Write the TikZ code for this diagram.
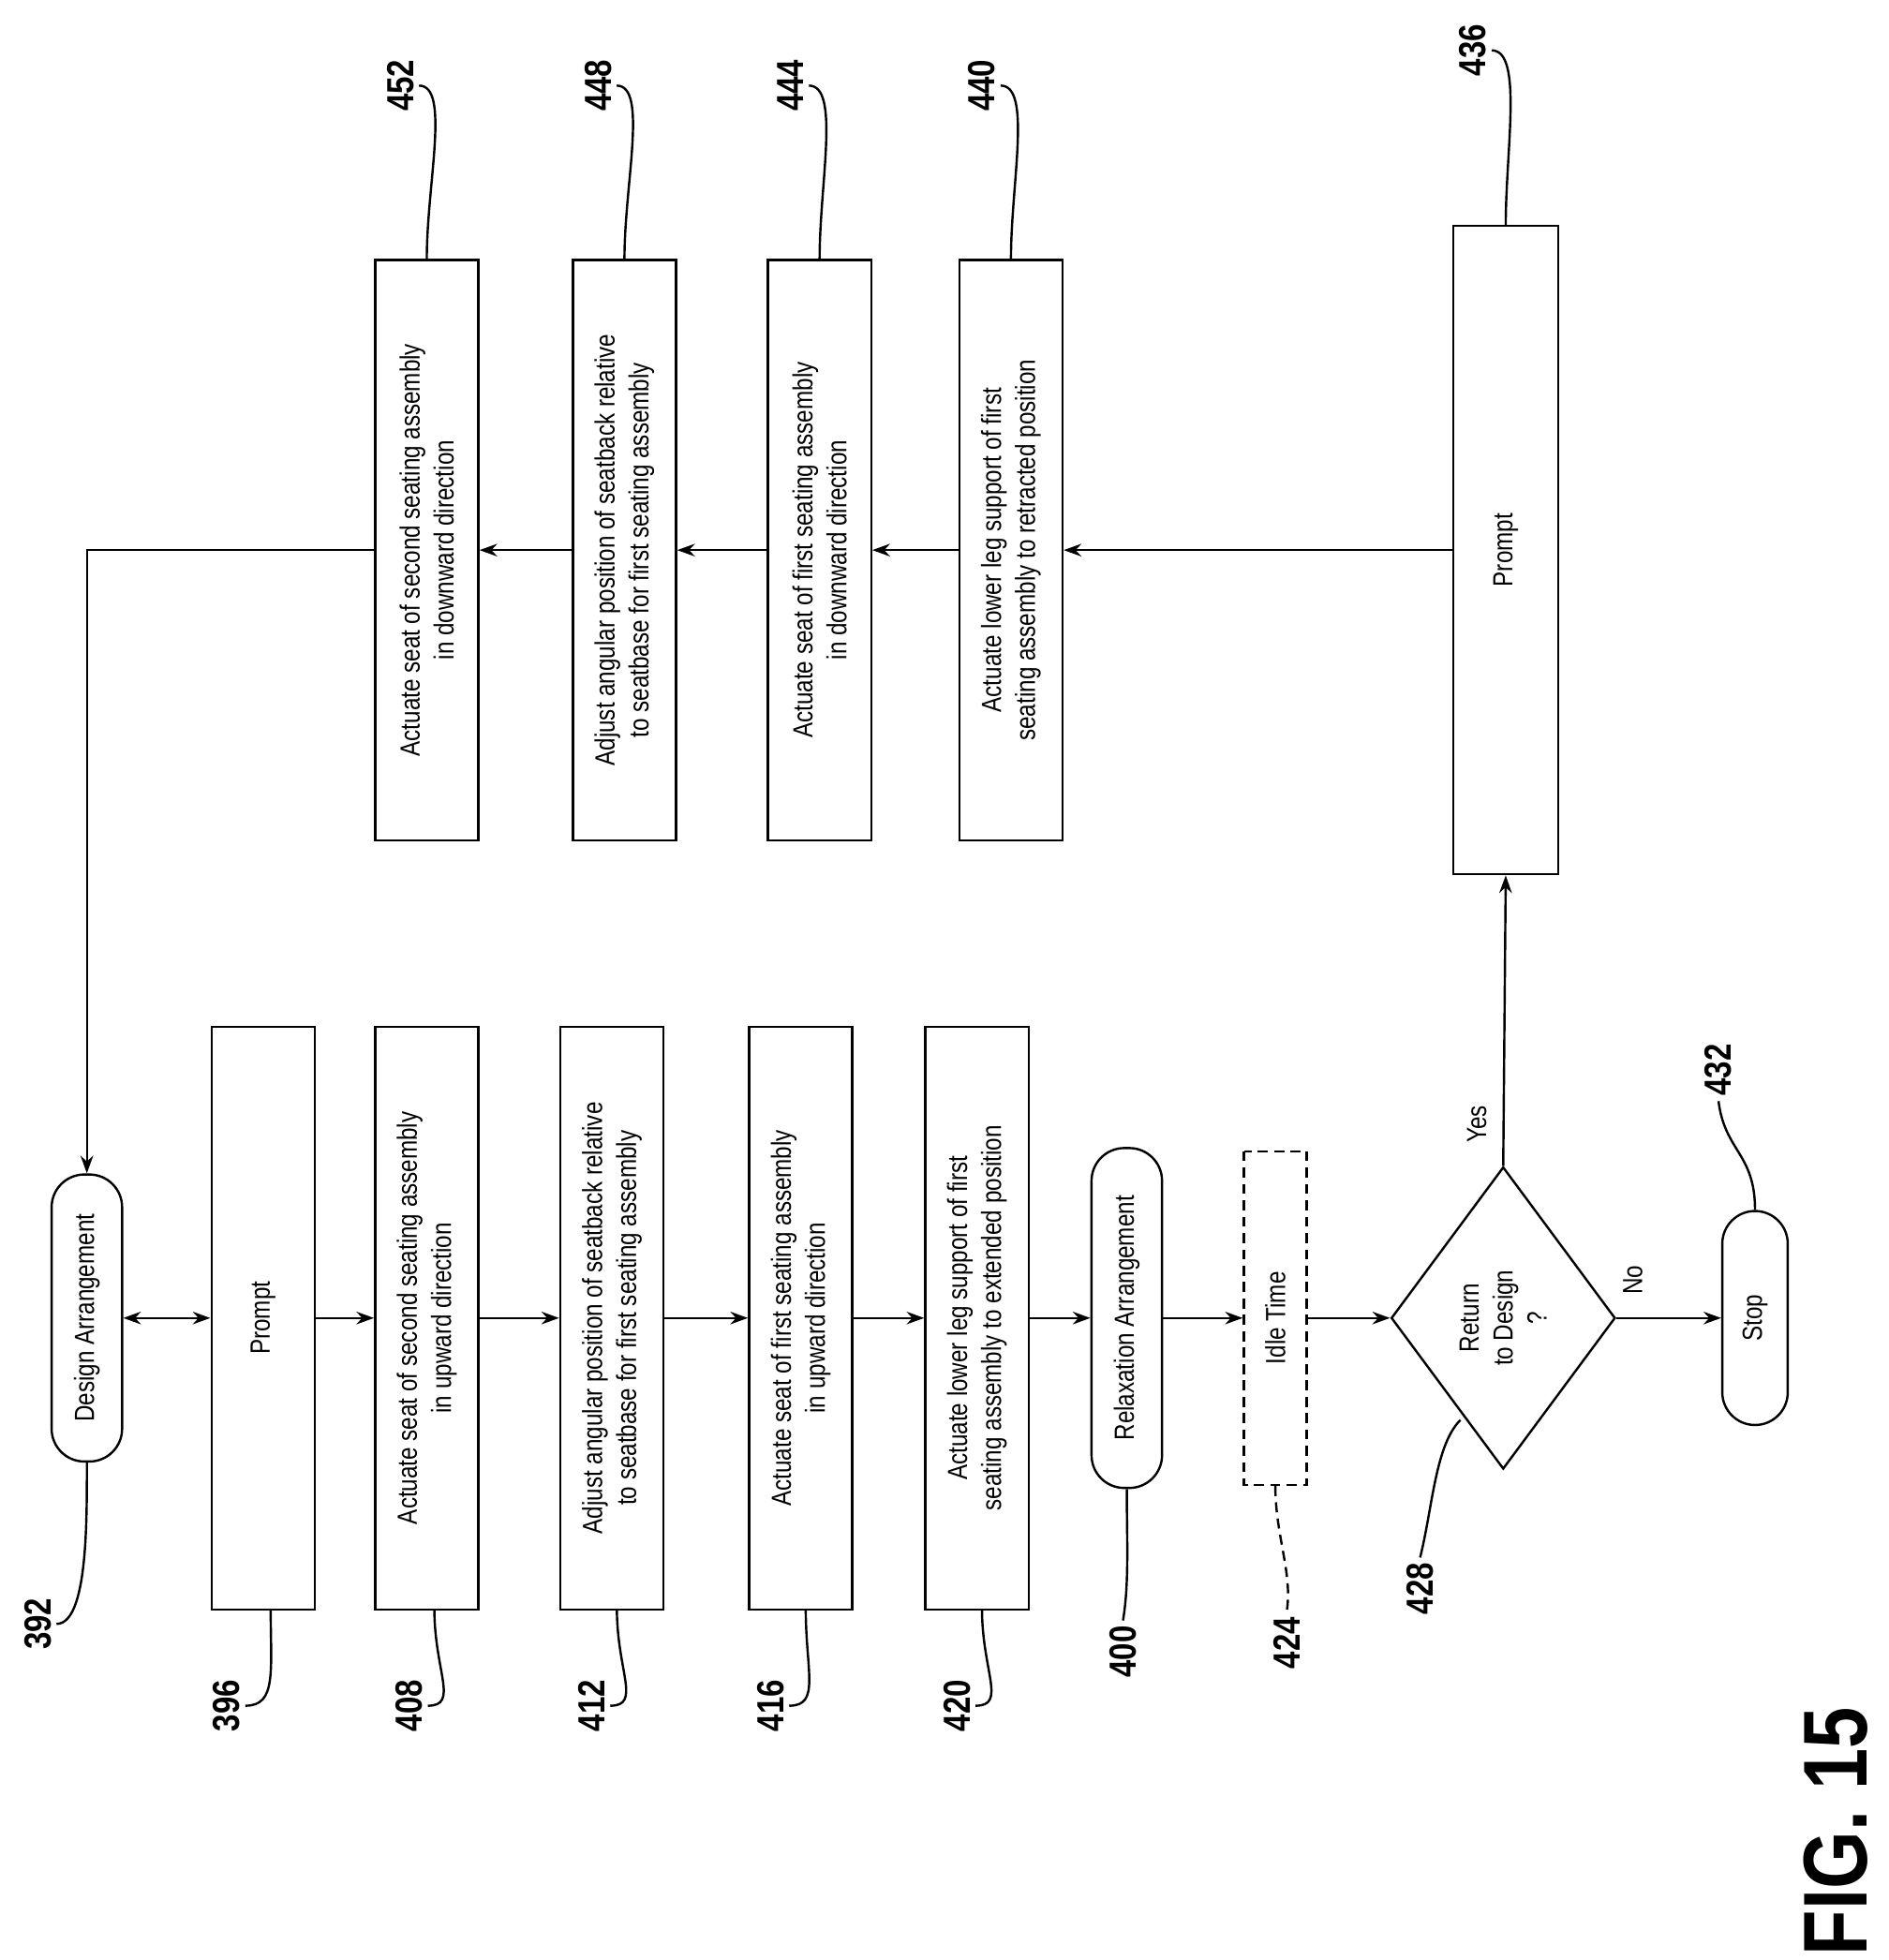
\documentclass[tikz,border=0pt]{standalone}
\usepackage{fontspec}
\setmainfont{Liberation Sans}[FakeStretch=0.82]
\usetikzlibrary{shapes.geometric,arrows.meta}

\begin{document}
\begin{tikzpicture}[x=1pt, y=-1pt, line width=1.8pt,
    every node/.style={rotate=90, font=\fontsize{22}{27}\selectfont, align=center},
    box/.style={draw, minimum width=463, minimum height=82, inner sep=2pt},
    boxr/.style={box, minimum width=461},
    term/.style={draw, rounded corners=26, minimum height=56, inner sep=4pt},
    num/.style={font=\fontsize{30}{30}\selectfont\bfseries},
    flow/.style={-{Stealth[length=14, width=10]}}]
  \useasboundingbox (0,0) rectangle (1500,1557);

  % left column
  \node[term, minimum width=228] (design) at (69,1047) {Design Arrangement};
  \node[box] (prompt) at (209,1047) {Prompt};
  \node[box] (up2) at (339,1047) {Actuate seat of second seating assembly\\in upward direction};
  \node[box] (adj1) at (486,1047) {Adjust angular position of seatback relative\\to seatbase for first seating assembly};
  \node[box] (up1) at (636,1047) {Actuate seat of first seating assembly\\in upward direction};
  \node[box] (ext) at (776,1047) {Actuate lower leg support of first\\seating assembly to extended position};
  \node[term, minimum width=270] (relax) at (895,1047) {Relaxation Arrangement};
  \node[draw, dashed, dash pattern=on 8pt off 5pt, minimum width=265, minimum height=50] (idle) at (1013,1047) {Idle Time};
  \node[draw, diamond, minimum width=240, minimum height=178, inner sep=0pt] (ret) at (1194,1047) {Return\\to Design\\?};
  \node[term, minimum width=170, minimum height=52] (stop) at (1394,1047) {Stop};

  % right column
  \node[draw, minimum width=515, minimum height=83] (prompt2) at (1196,437) {Prompt};
  \node[boxr] (ret1) at (803,437) {Actuate lower leg support of first\\seating assembly to retracted position};
  \node[boxr] (down1) at (651,437) {Actuate seat of first seating assembly\\in downward direction};
  \node[boxr] (adj2) at (496,437) {Adjust angular position of seatback relative\\to seatbase for first seating assembly};
  \node[boxr] (down2) at (339,437) {Actuate seat of second seating assembly\\in downward direction};

  \draw[{Stealth[length=14, width=10]}-{Stealth[length=14, width=10]}] (design) -- (prompt);
  \draw[flow] (prompt) -- (up2);
  \draw[flow] (up2) -- (adj1);
  \draw[flow] (adj1) -- (up1);
  \draw[flow] (up1) -- (ext);
  \draw[flow] (ext) -- (relax);
  \draw[flow] (relax) -- (idle);
  \draw[flow] (idle) -- (ret);
  \draw[flow] (ret) -- (stop);
  \node (no) at (1297,1017) {No};
  \draw[flow] (ret.east) -- (prompt2.west);
  \node (yes) at (1173,893) {Yes};
  \draw[flow] (prompt2) -- (ret1);
  \draw[flow] (ret1) -- (down1);
  \draw[flow] (down1) -- (adj2);
  \draw[flow] (adj2) -- (down2);
  \draw[flow] (down2.north) -| (design.east);

  % reference numerals
  \node[num] (l392) at (30,1290) {392};
  \node[num] (l396) at (180,1355) {396};
  \node[num] (l408) at (325,1355) {408};
  \node[num] (l412) at (470,1355) {412};
  \node[num] (l416) at (612,1355) {416};
  \node[num] (l420) at (760,1355) {420};
  \node[num] (l400) at (892,1312) {400};
  \node[num] (l424) at (1022,1305) {424};
  \node[num] (l428) at (1128,1262) {428};
  \node[num] (l432) at (1365,850) {432};
  \node[num] (l436) at (1170,40) {436};
  \node[num] (l440) at (780,68) {440};
  \node[num] (l444) at (628,68) {444};
  \node[num] (l448) at (475,68) {448};
  \node[num] (l452) at (318,68) {452};
  \node[font=\fontsize{72}{72}\selectfont\bfseries] (fig) at (1458,1455) {FIG. 15};

  \draw (design.west) .. controls +(0,45) and +(25,0) .. (l392.south);
  \draw (215,1278) .. controls +(0,50) and +(25,0) .. (l396.south);
  \draw (345,1278) .. controls +(0,50) and +(25,0) .. (l408.south);
  \draw (490,1278) .. controls +(0,50) and +(25,0) .. (l412.south);
  \draw (640,1278) .. controls +(0,50) and +(25,0) .. (l416.south);
  \draw (780,1278) .. controls +(0,50) and +(25,0) .. (l420.south);
  \draw (relax.west) .. controls +(0,40) and +(5,-30) .. (l400.east);
  \draw[dashed, dash pattern=on 8pt off 5pt] (idle.west) .. controls +(0,40) and +(5,-30) .. (l424.east);
  \draw (1160,1128) .. controls +(-20,20) and +(10,-40) .. (l428.east);
  \draw (l432.west) .. controls +(5,40) and +(0,-45) .. (stop.east);
  \draw (l436.south) .. controls +(25,0) and +(0,-60) .. (prompt2.east);
  \draw (l440.south) .. controls +(25,0) and +(0,-60) .. (ret1.east);
  \draw (l444.south) .. controls +(25,0) and +(0,-60) .. (down1.east);
  \draw (l448.south) .. controls +(25,0) and +(0,-60) .. (adj2.east);
  \draw (l452.south) .. controls +(25,0) and +(0,-60) .. (down2.east);
\end{tikzpicture}
\end{document}
